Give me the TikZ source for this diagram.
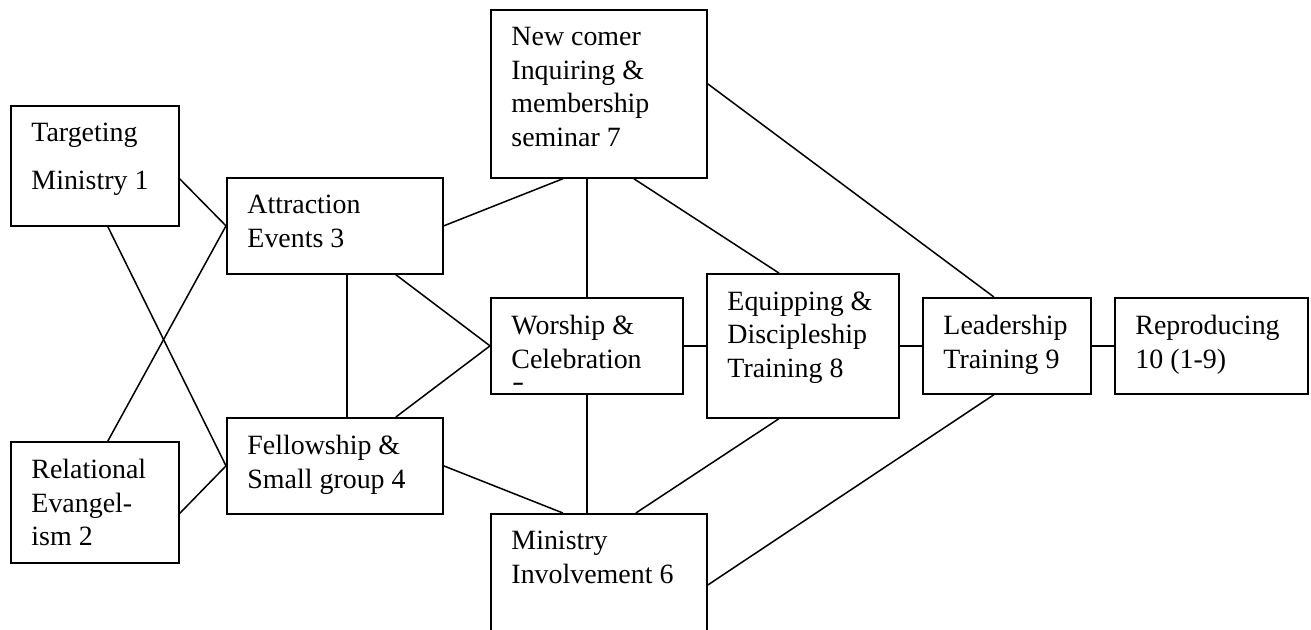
\documentclass[tikz,border=0pt]{standalone}
\usepackage{fontspec}
\setmainfont{Liberation Serif}
\usetikzlibrary{calc}
\newcommand{\pxu}{0.43pt}

\tikzset{
  stage/.style={draw, line width=0.75pt, anchor=north west, inner sep=0pt},
  stagetext/.style={anchor=north west, align=left, inner sep=0pt, font=\fontsize{12}{14.4}\selectfont},
  link/.style={line width=0.65pt}
}

\begin{document}
\begin{tikzpicture}[x=\pxu, y=-\pxu]

    % Page frame
    \useasboundingbox (0,0) rectangle (1311,630);
    \clip (0,0) rectangle (1311,630);

    % Draw the stage boxes
    \node[stage, minimum width=168*\pxu, minimum height=120*\pxu] (b1) at (10,105) {};
    \node[stage, minimum width=168*\pxu, minimum height=121*\pxu] (b2) at (10,441) {};
    \node[stage, minimum width=216*\pxu, minimum height=96*\pxu] (b3) at (226,177) {};
    \node[stage, minimum width=216*\pxu, minimum height=96*\pxu] (b4) at (226,417) {};
    \node[stage, minimum width=192*\pxu, minimum height=96*\pxu] (b5) at (490,297) {};
    \node[stage, minimum width=216*\pxu, minimum height=200*\pxu] (b6) at (490,513) {};
    \node[stage, minimum width=216*\pxu, minimum height=168*\pxu] (b7) at (490,9) {};
    \node[stage, minimum width=192*\pxu, minimum height=144*\pxu] (b8) at (706,273) {};
    \node[stage, minimum width=168*\pxu, minimum height=96*\pxu] (b9) at (922,297) {};
    \node[stage, minimum width=193*\pxu, minimum height=96*\pxu] (b10) at (1114,297) {};

    % Labels inside the boxes
    \node[stagetext, font=\fontsize{12}{20.6}\selectfont] (t1) at ($(b1.north west)+(21,18)$) {Targeting\\Ministry 1};
    \node[stagetext] (t2) at ($(b2.north west)+(21,18)$) {Relational\\Evangel-\\ism 2};
    \node[stagetext] (t3) at ($(b3.north west)+(21,18)$) {Attraction\\Events 3};
    \node[stagetext] (t4) at ($(b4.north west)+(21,18)$) {Fellowship \&\\Small group 4};
    \begin{scope}
      \clip (b5.north west) rectangle ($(b5.south east)+(0,-10)$);
      \node[stagetext] (t5) at ($(b5.north west)+(21,18)$) {Worship \&\\Celebration\\5};
    \end{scope}
    \node[stagetext] (t6) at ($(b6.north west)+(21,18)$) {Ministry\\Involvement 6};
    \node[stagetext] (t7) at ($(b7.north west)+(21,18)$) {New comer\\Inquiring \&\\membership\\seminar 7};
    \node[stagetext] (t8) at ($(b8.north west)+(21,18)$) {Equipping \&\\Discipleship\\Training 8};
    \node[stagetext] (t9) at ($(b9.north west)+(21,18)$) {Leadership\\Training 9};
    \node[stagetext] (t10) at ($(b10.north west)+(21,18)$) {Reproducing\\10 (1-9)};

    % Left side crossing links
    \draw[link] ($(b1.east)+(0,13)$) -- (b3.west);
    \draw[link] ($(b1.south)+(13,0)$) -- (b4.west);
    \draw[link] ($(b2.north)+(13,0)$) -- (b3.west);
    \draw[link] ($(b2.east)+(0,11)$) -- (b4.west);

    % Middle links
    \draw[link] (b3.east) -- ($(b7.south)+(-36,0)$);
    \draw[link] ($(b3.south)+(12,0)$) -- ($(b4.north)+(12,0)$);
    \draw[link] ($(b3.south)+(61,0)$) -- (b5.west);
    \draw[link] ($(b4.north)+(61,0)$) -- (b5.west);
    \draw[link] (b4.east) -- ($(b6.north)+(-36,0)$);
    \draw[link] ($(b7.south)+(-12,0)$) -- (b5.north);
    \draw[link] (b5.south) -- ($(b6.north)+(-12,0)$);
    \draw[link] ($(b7.south)+(35,0)$) -- ($(b8.north)+(-24,0)$);
    \draw[link] ($(b8.south)+(-24,0)$) -- ($(b6.north)+(37,0)$);

    % Right side links
    \draw[link] ($(b7.east)+(0,-10)$) -- ($(b9.north)+(-13,0)$);
    \draw[link] ($(b9.south)+(-13,0)$) -- ($(b6.north east)+(0,72)$);
    \draw[link] (b5.east) -- (b8.west);
    \draw[link] (b8.east) -- (b9.west);
    \draw[link] (b9.east) -- (b10.west);

\end{tikzpicture}
\end{document}
